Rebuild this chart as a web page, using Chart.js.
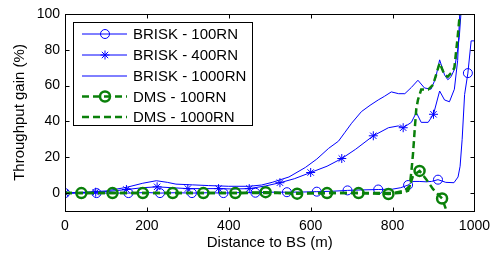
<!DOCTYPE html>
<html>
<head>
<meta charset="utf-8">
<script src="https://cdn.jsdelivr.net/npm/chart.js@4.4.1/dist/chart.umd.min.js"></script>
<style>
  html, body { margin: 0; padding: 0; background: #fff; }
  #wrap { width: 497px; height: 253px; }
</style>
</head>
<body>
<div id="wrap"><canvas id="myChart" width="497" height="253"></canvas></div>
<script>
var xTicks = [0, 200, 400, 600, 800, 1000];
var yTicks = [0, 20, 40, 60, 80, 100];

// BRISK - 100RN
var brisk100X = [0, 40, 77, 120, 155, 200, 232, 270, 310, 350, 387, 430, 465, 500, 542, 580, 615, 650, 690, 730, 765, 800, 820, 838, 850, 865, 882, 895, 911, 930, 950, 960, 965, 970, 976, 984, 992, 1000];
var brisk100Y = [0, 0, 0, 0, 0, 0.3, 0, 0.2, 0, 0.2, 0, 0.3, 0.2, 0.5, 0.5, 0.6, 0.8, 1, 1.5, 1.8, 2, 2.2, 3, 4.5, 6.5, 6.5, 6.3, 6.5, 7.5, 6, 5.8, 9, 15, 30, 55, 67, 85, 85];
var brisk100Marks = [0, 77, 155, 232, 310, 387, 465, 542, 615, 690, 765, 838, 911, 984];

// BRISK - 400RN
var brisk400X = [0, 40, 75, 110, 150, 190, 225, 260, 300, 340, 375, 410, 450, 490, 525, 560, 600, 640, 676, 710, 753, 790, 814, 826, 846, 858, 870, 887, 900, 915, 927, 939, 951, 959, 964];
var brisk400Y = [0, 0.3, 0.5, 1, 2, 3, 3.5, 3, 2.5, 2.5, 2.5, 2.3, 2.5, 4, 5.8, 8, 11.5, 15, 19.3, 24.5, 32, 36.5, 37.5, 36.5, 39.5, 45, 39.5, 39.5, 44, 57, 52, 51, 58, 74, 100];
var brisk400Marks = [0, 75, 150, 225, 300, 375, 450, 525, 600, 676, 753, 826, 900];

// BRISK - 1000RN
var brisk1000X = [0, 50, 100, 150, 190, 223, 250, 271, 311, 350, 400, 449, 480, 506, 547, 587, 615, 644, 668, 684, 700, 724, 745, 765, 780, 797, 815, 830, 846, 862, 878, 894, 905, 915, 927, 935, 943, 951, 959, 963, 967];
var brisk1000Y = [0, 0.5, 1.2, 3.2, 5.5, 6.9, 6, 5, 4.6, 4.2, 3.8, 3.8, 4.5, 6, 9, 14.3, 19, 25, 29, 34, 39, 45.5, 49, 52, 54, 56.5, 55.5, 55.5, 59, 63, 58.7, 58, 64, 74.4, 66, 63.3, 65, 69, 80, 87, 100];

// DMS - 100RN
var dms100X = [0, 40, 116, 190, 263, 338, 416, 490, 567, 640, 717, 790, 826, 838, 850, 866, 882, 899, 921, 932, 945];
var dms100Y = [0, 0, 0, 0, 0, 0, 0, 0.5, -0.3, 0, 0, -0.5, 0.3, 1.3, 9.6, 12.4, 7.8, 2.2, -3, -10, -17];
var dms100Marks = [40, 116, 190, 263, 338, 416, 490, 567, 640, 717, 790, 866, 921];

// DMS - 1000RN
var dms1000X = [0, 200, 400, 600, 800, 830, 842, 846, 850, 854, 858, 862, 870, 887, 899, 915, 927, 935, 943, 951, 959, 963, 966];
var dms1000Y = [0, 0, 0, 0, 0, 1.3, 4, 12, 22, 35, 47, 52, 57.8, 57.8, 60.5, 72.6, 66, 65, 67, 70, 87, 97, 102];

var BLUE = '#0000ff';
var GREEN = '#0a800a';
var FONT = '"Liberation Sans", Arial, sans-serif';

function pts(xs, ys) {
  return xs.map(function (x, i) { return { x: x, y: ys[i] }; });
}
function marker(marks, r) {
  return function (ctx) {
    return (ctx.raw && marks.indexOf(ctx.raw.x) >= 0) ? r : 0;
  };
}

var framePlugin = {
  id: 'frame',
  afterDraw: function (chart) {
    var ctx = chart.ctx, a = chart.chartArea;
    var xs = chart.scales.x, ys = chart.scales.y;
    var l = Math.round(a.left) + 0.5, r = Math.round(a.right) + 0.5;
    var t = Math.round(a.top) + 0.5, b = Math.round(a.bottom) + 0.5;
    ctx.save();
    ctx.strokeStyle = '#000';
    ctx.lineWidth = 1;
    ctx.setLineDash([]);
    ctx.strokeRect(l, t, r - l, b - t);
    ctx.beginPath();
    xTicks.forEach(function (v) {
      var px = Math.round(xs.getPixelForValue(v)) + 0.5;
      ctx.moveTo(px, b); ctx.lineTo(px, b - 4);
      ctx.moveTo(px, t); ctx.lineTo(px, t + 4);
    });
    yTicks.forEach(function (v) {
      var py = Math.round(ys.getPixelForValue(v)) + 0.5;
      ctx.moveTo(l, py); ctx.lineTo(l + 4, py);
      ctx.moveTo(r, py); ctx.lineTo(r - 4, py);
    });
    ctx.stroke();

    // axis titles
    ctx.fillStyle = '#000';
    ctx.font = '15px ' + FONT;
    ctx.textAlign = 'center';
    ctx.textBaseline = 'middle';
    ctx.fillText('Distance to BS (m)', (a.left + a.right) / 2, 243);
    ctx.save();
    ctx.translate(20, (a.top + a.bottom) / 2);
    ctx.rotate(-Math.PI / 2);
    ctx.fillText('Throughput gain (%)', 0, 0);
    ctx.restore();

    // legend box
    var bx = 73.5, by = 22.5, bw = 179, bh = 103;
    ctx.fillStyle = '#fff';
    ctx.fillRect(bx, by, bw, bh);
    ctx.strokeStyle = '#000';
    ctx.lineWidth = 1;
    ctx.strokeRect(bx, by, bw, bh);
    var rows = [34, 55, 76, 96.5, 117];
    chart.data.datasets.forEach(function (ds, i) {
      var y = rows[i];
      ctx.save();
      ctx.strokeStyle = ds.borderColor;
      ctx.lineWidth = ds.borderWidth;
      ctx.setLineDash(ds.borderDash || []);
      ctx.beginPath();
      ctx.moveTo(82, y); ctx.lineTo(127, y);
      ctx.stroke();
      ctx.setLineDash([]);
      if (ds.legendMarker && Chart.helpers && Chart.helpers.drawPoint) {
        ctx.strokeStyle = ds.borderColor;
        ctx.fillStyle = 'rgba(0,0,0,0)';
        ctx.lineWidth = ds.pointBorderWidth;
        Chart.helpers.drawPoint(ctx, { pointStyle: ds.pointStyle, radius: ds.legendMarker, borderWidth: ds.pointBorderWidth, rotation: 0 }, 105, y);
      }
      ctx.restore();
      ctx.fillStyle = '#000';
      ctx.textAlign = 'left';
      ctx.textBaseline = 'middle';
      ctx.font = '15px ' + FONT;
      ctx.fillText(ds.label, 133, y + 1);
    });
    ctx.restore();
  }
};

var ctx = document.getElementById('myChart').getContext('2d');
var myChart = new Chart(ctx, {
  type: 'line',
  data: {
    datasets: [{
      label: 'BRISK - 100RN',
      data: pts(brisk100X, brisk100Y),
      borderColor: BLUE,
      borderWidth: 1,
      pointStyle: 'circle',
      pointRadius: marker(brisk100Marks, 4.5),
      pointBorderWidth: 1,
      pointBorderColor: BLUE,
      pointBackgroundColor: 'rgba(0,0,0,0)',
      legendMarker: 4.5,
      order: 5
    }, {
      label: 'BRISK - 400RN',
      data: pts(brisk400X, brisk400Y),
      borderColor: BLUE,
      borderWidth: 1,
      pointStyle: 'star',
      pointRadius: marker(brisk400Marks, 4.5),
      pointBorderWidth: 1,
      pointBorderColor: BLUE,
      pointBackgroundColor: 'rgba(0,0,0,0)',
      legendMarker: 4.5,
      order: 4
    }, {
      label: 'BRISK - 1000RN',
      data: pts(brisk1000X, brisk1000Y),
      borderColor: BLUE,
      borderWidth: 1,
      pointRadius: 0,
      order: 3
    }, {
      label: 'DMS - 100RN',
      data: pts(dms100X, dms100Y),
      borderColor: GREEN,
      borderWidth: 2.5,
      borderDash: [7, 4],
      pointStyle: 'circle',
      pointRadius: marker(dms100Marks, 5),
      pointBorderWidth: 2.5,
      pointBorderColor: GREEN,
      pointBackgroundColor: 'rgba(0,0,0,0)',
      legendMarker: 5,
      order: 2
    }, {
      label: 'DMS - 1000RN',
      data: pts(dms1000X, dms1000Y),
      borderColor: GREEN,
      borderWidth: 2.5,
      borderDash: [7, 4],
      pointRadius: 0,
      order: 1
    }]
  },
  options: {
    responsive: false,
    animation: false,
    devicePixelRatio: 1,
    layout: { padding: { top: 14, right: 20, left: 0, bottom: 0 } },
    elements: { line: { tension: 0, fill: false } },
    plugins: { legend: { display: false }, tooltip: { enabled: false } },
    scales: {
      x: {
        type: 'linear',
        min: 0,
        max: 1000,
        afterBuildTicks: function (s) { s.ticks = xTicks.map(function (v) { return { value: v }; }); },
        afterFit: function (s) { s.height = 42; },
        grid: { display: false, drawTicks: false },
        border: { display: false },
        ticks: { color: '#000', padding: 7, maxRotation: 0, autoSkip: false, callback: function (v) { return String(v); }, font: { family: FONT, size: 14 } }
      },
      y: {
        type: 'linear',
        min: -10,
        max: 100,
        afterBuildTicks: function (s) { s.ticks = yTicks.map(function (v) { return { value: v }; }); },
        afterFit: function (s) { s.width = 65; },
        grid: { display: false, drawTicks: false },
        border: { display: false },
        ticks: { color: '#000', padding: 5, autoSkip: false, callback: function (v) { return String(v); }, font: { family: FONT, size: 14 } }
      }
    }
  },
  plugins: [framePlugin]
});
</script>
</body>
</html>
